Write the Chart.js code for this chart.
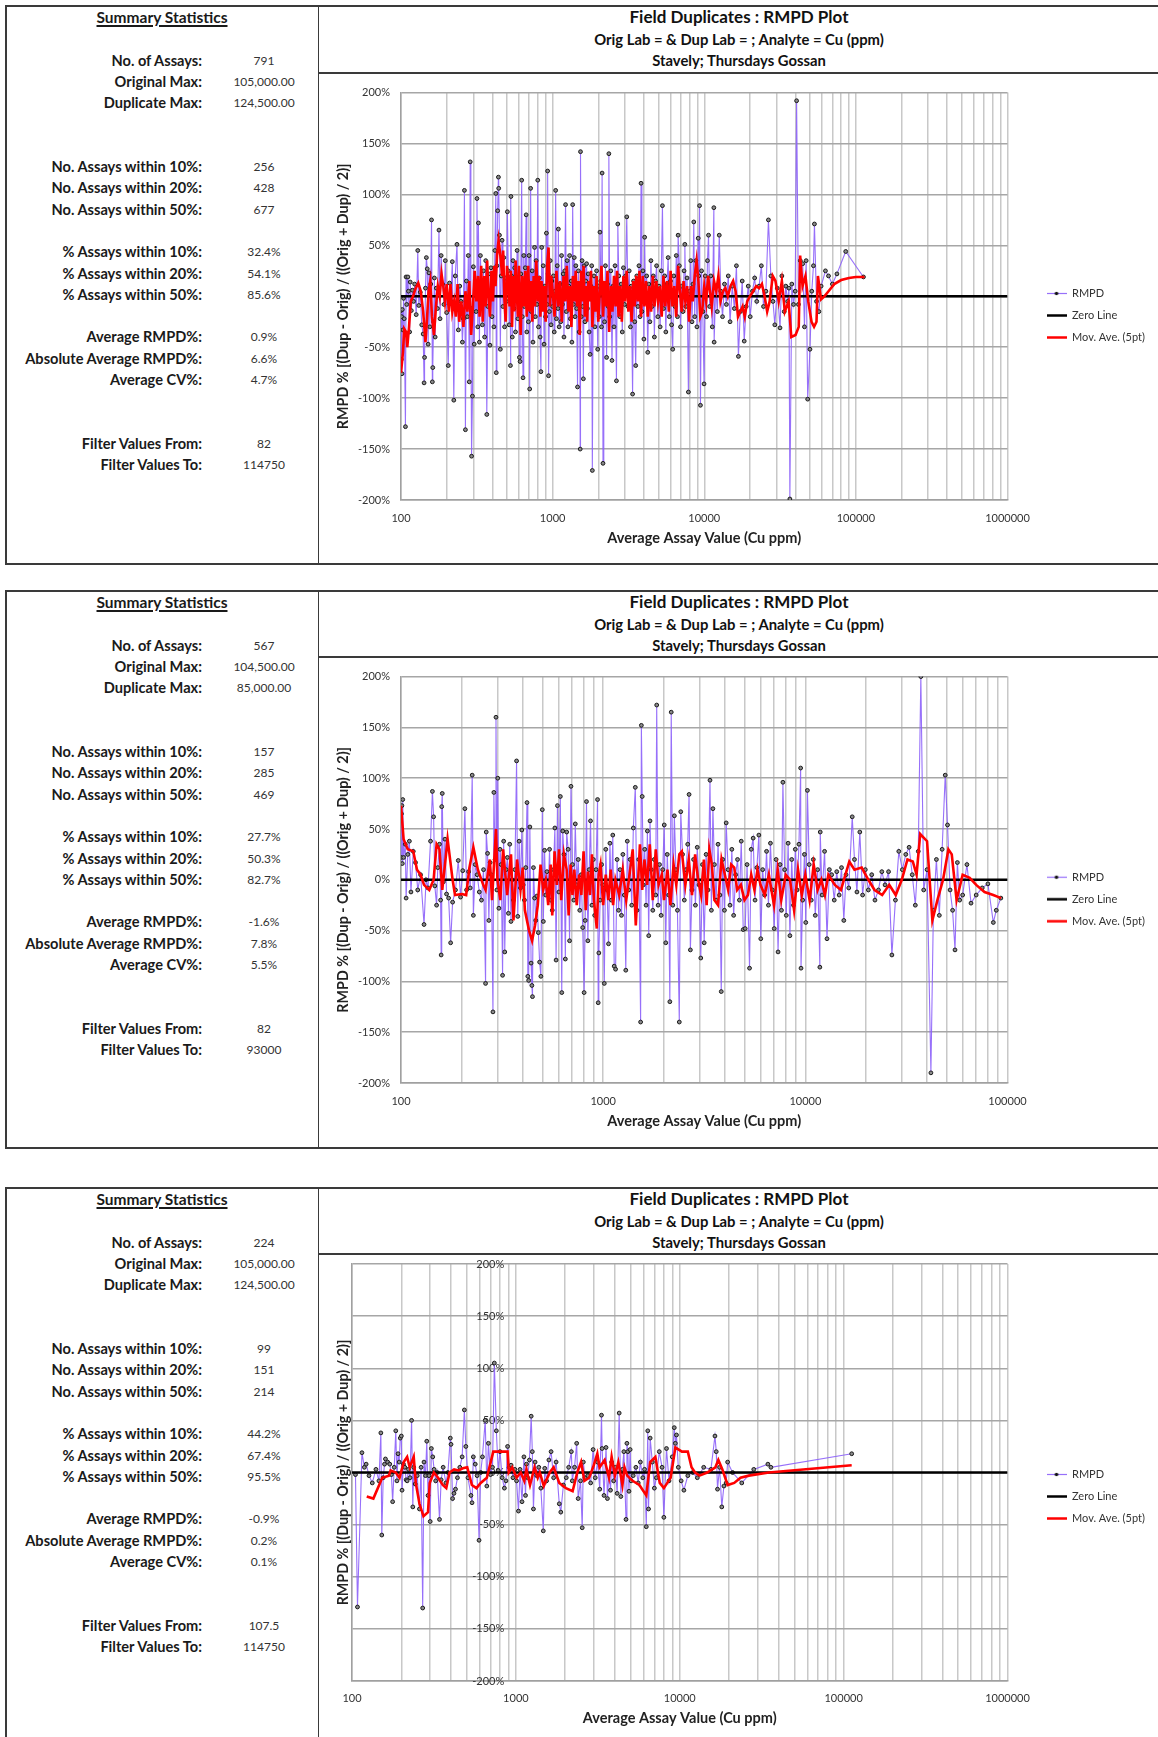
<!DOCTYPE html>
<html>
<head>
<meta charset="utf-8">
<title>Field Duplicates : RMPD Plot</title>
<script src="https://cdn.jsdelivr.net/npm/chart.js@4.4.1/dist/chart.umd.min.js"></script>
<style>
  html, body { margin: 0; padding: 0; background: #fff; }
  body { position: relative; width: 1158px; height: 1737px; overflow: hidden; font-family: Lato, "Open Sans", sans-serif; color: #1a1a1a; }
  .txt { position: absolute; height: 20px; line-height: 20px; white-space: nowrap; }
  .stitle { font-size: 15.5px; font-weight: bold; text-decoration: underline; text-decoration-thickness: 1.5px; text-underline-offset: 2px; }
  .slabel { font-size: 14.6px; font-weight: bold; color: #1a1a1a; }
  .sval { font-size: 12px; color: #333; }
  .htitle { font-size: 17px; font-weight: bold; color: #111; }
  .hsub { font-size: 14.8px; font-weight: bold; color: #111; }
  .hline { position: absolute; background: #3a3a3a; }
  canvas { position: absolute; left: 320px; }
</style>
</head>
<body>
<canvas id="chart1" width="838" height="488"></canvas>
<canvas id="chart2" width="838" height="488"></canvas>
<canvas id="chart3" width="838" height="481"></canvas>
<script>
// ---- summary statistics ----
const statLabels = ['No. of Assays:', 'Original Max:', 'Duplicate Max:',
  'No. Assays within 10%:', 'No. Assays within 20%:', 'No. Assays within 50%:',
  '% Assays within 10%:', '% Assays within 20%:', '% Assays within 50%:',
  'Average RMPD%:', 'Absolute Average RMPD%:', 'Average CV%:',
  'Filter Values From:', 'Filter Values To:'];
const statRows = [0, 1, 2, 5, 6, 7, 9, 10, 11, 13, 14, 15, 18, 19];
const stats1 = ['791', '105,000.00', '124,500.00', '256', '428', '677', '32.4%', '54.1%', '85.6%', '0.9%', '6.6%', '4.7%', '82', '114750'];
const stats2 = ['567', '104,500.00', '85,000.00', '157', '285', '469', '27.7%', '50.3%', '82.7%', '-1.6%', '7.8%', '5.5%', '82', '93000'];
const stats3 = ['224', '105,000.00', '124,500.00', '99', '151', '214', '44.2%', '67.4%', '95.5%', '-0.9%', '0.2%', '0.1%', '107.5', '114750'];

const chartTitle = 'Field Duplicates : RMPD Plot';
const chartSub1 = 'Orig Lab =  & Dup Lab = ; Analyte = Cu (ppm)';
const chartSub2 = 'Stavely; Thursdays Gossan';
const xTitle = 'Average Assay Value (Cu ppm)';
const yTitle = 'RMPD % [(Dup - Orig) / ((Orig + Dup) / 2)]';
const seriesNames = ['RMPD', 'Zero Line', 'Mov. Ave. (5pt)'];

// ---- axis ticks ----
const gridSteps = [1, 2, 3, 4, 5, 6, 7, 8, 9];
const xLabels1 = [100, 1000, 10000, 100000, 1000000];
const xLabels2 = [100, 1000, 10000, 100000];
const xLabels3 = [100, 1000, 10000, 100000, 1000000];

// ---- panel 1: [average Cu ppm, RMPD %] ----
const rmpd1 = [[100,-14],[100.5,-62],[101,-20],[101.5,-76],[102,-13],[103,-33],[104,-2],[105,-22],[107,-128],[108,19],[109,-8],[111,19],[112,5],[114,-35],[115,14],[117,-14],[119,6],[121,-5],[123,12],[126,-18],[129,45],[131,-9],[134,4],[137,-28],[140,-37],[142,-85],[143,-60],[145,8],[147,38],[149,27],[151,-47],[153,23],[155,-30],[157,12],[159,75],[161,-84],[162,-70],[164,-25],[166,18],[168,-40],[171,8],[174,-12],[178,65],[181,-22],[184,40],[188,12],[192,-8],[196,35],[200,-16],[205,-68],[209,13],[213,-5],[218,34],[223,-102],[228,20],[234,51],[239,-33],[244,10],[249,-5],[254,-45],[258,-22],[262,104],[266,-131],[270,15],[274,-20],[278,40],[282,-84],[286,132],[289,-12],[292,-157],[296,-98],[300,29],[304,-47],[309,13],[313,-15],[317,96],[321,-30],[324,72],[329,-45],[334,40],[339,5],[344,-28],[350,25],[356,-40],[362,35],[368,-116],[374,-10],[380,22],[386,-48],[392,28],[398,-20],[404,15],[410,-30],[416,45],[422,101],[425,-75],[429,30],[434,84],[439,117],[441,106],[446,60],[452,-52],[458,20],[464,55],[470,-10],[476,38],[482,-30],[489,18],[496,-5],[503,83],[510,25],[517,-28],[524,10],[527,-68],[531,98],[536,20],[542,-40],[548,35],[555,-12],[562,28],[569,-35],[576,5],[583,45],[590,-22],[597,12],[604,-60],[610,-64],[617,22],[625,114],[631,-20],[638,-80],[645,40],[652,-10],[660,28],[669,80],[676,-35],[684,15],[692,-25],[699,40],[706,-91],[716,106],[724,-15],[733,25],[742,-45],[751,10],[760,48],[769,-20],[779,35],[788,-8],[798,114],[807,-30],[817,18],[827,-40],[837,-74],[847,48],[857,-12],[867,30],[878,-47],[888,10],[899,-20],[910,62],[920,-8],[927,123],[934,22],[940,-78],[952,-15],[964,35],[976,-28],[988,15],[1000,-10],[1012,20],[1025,-35],[1035,5],[1047,104],[1060,-22],[1073,30],[1085,-12],[1091,66],[1104,-30],[1118,12],[1131,-25],[1145,40],[1160,-8],[1174,22],[1188,-40],[1203,25],[1217,90],[1232,-15],[1247,35],[1262,-30],[1278,10],[1294,40],[1310,-22],[1326,15],[1340,-45],[1356,90],[1372,-8],[1389,38],[1406,-20],[1423,30],[1440,-12],[1460,-89],[1478,25],[1496,-35],[1510,8],[1520,-150],[1527,142],[1545,-20],[1564,35],[1580,-10],[1595,-81],[1615,30],[1635,-25],[1655,15],[1675,32],[1696,-12],[1717,22],[1740,-35],[1767,-57],[1790,10],[1810,30],[1828,-171],[1850,-5],[1875,20],[1900,-30],[1925,8],[1950,25],[1983,-52],[2010,10],[2030,-20],[2052,63],[2080,15],[2100,-30],[2120,121],[2149,-164],[2175,5],[2200,-25],[2230,30],[2269,-60],[2300,12],[2330,-10],[2349,140],[2380,-20],[2420,25],[2463,-63],[2500,10],[2540,-30],[2580,30],[2636,-83],[2660,-5],[2691,71],[2730,20],[2780,-20],[2830,12],[2880,-35],[2930,28],[2980,-8],[3030,20],[3083,78],[3140,-10],[3200,25],[3260,-30],[3300,10],[3368,-96],[3420,15],[3480,-25],[3531,-68],[3590,20],[3650,-10],[3710,30],[3770,-20],[3830,111],[3880,-15],[3940,25],[4000,-42],[4045,58],[4100,-5],[4170,20],[4240,-55],[4310,12],[4380,-25],[4450,35],[4530,-10],[4610,20],[4690,-40],[4770,15],[4850,30],[4940,-20],[5030,10],[5120,-30],[5210,25],[5300,89],[5390,-12],[5480,20],[5580,-35],[5680,12],[5780,38],[5880,-20],[5990,15],[6090,-28],[6195,-52],[6300,20],[6420,-10],[6540,40],[6660,-20],[6725,60],[6850,30],[6970,-30],[7100,10],[7230,-15],[7360,25],[7448,51],[7560,-10],[7700,18],[7860,-94],[8000,5],[8150,35],[8300,-25],[8420,12],[8530,73],[8650,-20],[8800,35],[8950,-30],[9125,57],[9200,20],[9310,89],[9440,-107],[9600,25],[9780,-15],[9970,-86],[10150,20],[10350,-20],[10500,35],[10670,60],[10850,-10],[11050,20],[11300,-30],[11570,87],[11620,-45],[11900,10],[12200,-15],[12560,60],[12850,5],[13200,-20],[13600,12],[14000,-8],[14400,20],[14800,-25],[15300,10],[15800,-12],[16300,30],[16800,-59],[17300,-15],[17800,15],[18350,-44],[18900,-10],[19500,10],[20100,-20],[20800,5],[21500,18],[22200,-5],[23000,10],[23800,30],[24600,-10],[25500,5],[26500,75],[27500,20],[28400,-5],[29200,-28],[30300,8],[31600,-31],[32500,20],[33700,-15],[34500,10],[35500,-5],[36200,8],[36700,-199],[37800,12],[38800,-8],[39800,5],[40650,192],[41800,-8],[43000,35],[44600,32],[45800,-30],[47000,35],[48100,-101],[49800,-52],[51200,5],[52500,30],[53300,71],[55000,-5],[57000,-15],[59000,10],[63000,25],[66000,20],[70000,12],[75000,22],[85700,44],[112200,19]];
const mov1 = [[100,-75],[103,-55],[105,-32],[108,-35],[110,-50],[113,-30],[116,-5],[120,0],[125,8],[130,13],[135,5],[140,-15],[145,-45],[148,-25],[152,5],[156,15],[160,-20],[165,-38],[170,-10],[175,10],[180,0],[185,22],[190,10],[195,-5],[200,12],[207,-15],[212,12],[218,-15],[224,-5],[230,-20],[236,12],[242,-25],[250,-5],[258,-30],[266,5],[274,-15],[282,15],[290,-38],[298,-10],[306,25],[314,-5],[322,20],[330,-20],[338,30],[346,-25],[354,20],[362,-10],[370,35],[378,0],[386,-20],[395,25],[404,-5],[412,30],[420,10],[430,40],[440,55],[448,45],[456,35],[464,20],[472,45],[480,0],[490,-25],[500,30],[510,15],[520,-10],[530,25],[540,-30],[550,20],[560,-15],[570,35],[580,5],[590,-20],[600,30],[615,-38],[630,20],[645,-10],[660,25],[675,-20],[690,30],[705,-15],[720,15],[735,-25],[750,20],[765,-10],[780,35],[800,-5],[815,20],[830,-20],[845,15],[860,-15],[880,10],[900,-25],[920,30],[940,48],[960,-10],[980,20],[1000,5],[1030,-20],[1060,25],[1090,-10],[1120,15],[1150,-25],[1180,20],[1210,-5],[1240,30],[1270,-15],[1300,10],[1330,-30],[1360,20],[1390,-5],[1420,25],[1450,-10],[1480,15],[1510,-38],[1540,25],[1570,-5],[1600,30],[1630,-20],[1660,10],[1690,-25],[1720,15],[1750,-5],[1790,25],[1830,-30],[1870,10],[1910,-15],[1950,20],[2000,-25],[2050,5],[2100,30],[2150,-20],[2200,15],[2250,-10],[2300,25],[2360,-35],[2420,10],[2480,-15],[2540,20],[2600,-10],[2660,25],[2720,-20],[2790,10],[2860,-25],[2930,20],[3000,-5],[3080,25],[3160,-15],[3240,10],[3320,-25],[3400,15],[3480,-10],[3560,20],[3650,-5],[3740,25],[3830,-20],[3930,20],[4030,-10],[4130,15],[4240,-20],[4350,10],[4460,-15],[4580,20],[4700,-10],[4830,15],[4960,-5],[5100,10],[5240,-20],[5380,20],[5530,-10],[5680,15],[5840,-15],[6000,25],[6170,-10],[6350,10],[6530,-20],[6720,30],[6910,5],[7100,-15],[7300,15],[7500,-5],[7720,10],[7940,-25],[8170,10],[8400,-5],[8650,20],[8900,35],[9150,15],[9420,-20],[9700,-15],[10000,10],[10300,-5],[10600,20],[10900,5],[11200,-10],[11600,15],[12000,5],[12400,20],[12800,-5],[13300,5],[13800,8],[14300,0],[14900,10],[15500,15],[16100,5],[16700,-20],[17300,-15],[17900,-10],[18500,-20],[19200,-5],[20000,0],[21000,5],[22000,10],[23000,8],[24000,12],[25000,0],[26000,-15],[27000,-5],[28300,20],[29500,15],[31000,-5],[32500,15],[34000,-15],[36000,-5],[37500,-40],[40000,-38],[42000,-30],[42900,40],[44500,10],[46500,20],[48500,-5],[51000,-25],[53000,-30],[55000,-25],[56200,20],[58900,-3],[62000,0],[66000,5],[72000,12],[80000,16],[90000,18],[100000,19],[114000,19]];

// ---- panel 2 ----
const rmpd2 = [[100,22],[100.5,65],[101,73],[101.5,16],[102,79],[103,22],[105,35],[106,-18],[108,25],[110,38],[112,-12],[115,28],[118,17],[121,-10],[125,5],[130,-44],[133,0],[136,-8],[140,38],[143,87],[145,62],[147,-6],[150,-25],[152,12],[155,35],[157,-20],[158,-74],[159,72],[160,85],[162,-2],[165,40],[168,-14],[172,-18],[176,-62],[180,-22],[186,-10],[192,19],[197,-17],[202,9],[207,70],[211,-10],[216,8],[220,-8],[225,103],[228,-35],[233,15],[238,5],[244,-12],[250,-20],[256,10],[262,-102],[264,47],[268,26],[272,-40],[276,17],[280,5],[285,-130],[288,86],[292,20],[295,160],[298,-10],[301,100],[305,-28],[309,30],[313,15],[318,-94],[322,38],[326,-71],[331,10],[336,22],[340,-33],[345,35],[350,-41],[355,0],[360,-20],[366,10],[373,117],[378,-36],[384,38],[390,-8],[396,49],[402,-5],[408,-20],[414,12],[420,76],[424,-95],[428,-99],[434,52],[440,-82],[444,-104],[447,-115],[452,12],[458,-18],[464,-40],[470,-16],[478,-52],[485,-81],[492,-95],[500,69],[506,-41],[513,29],[520,-15],[527,8],[535,-10],[543,30],[551,-20],[560,-30],[568,10],[577,51],[585,-79],[594,73],[604,-12],[614,82],[624,-111],[631,48],[640,25],[650,-78],[660,47],[671,30],[682,-60],[693,92],[705,15],[716,-20],[728,55],[740,-5],[753,20],[766,-30],[779,5],[792,-47],[805,-111],[815,-40],[827,77],[840,-60],[853,10],[866,58],[880,-25],[894,20],[908,-35],[922,10],[938,79],[945,-121],[952,-72],[966,-20],[982,15],[997,-5],[1013,-102],[1030,30],[1046,-10],[1063,-63],[1080,36],[1098,-20],[1116,44],[1134,-85],[1152,-88],[1172,20],[1192,-30],[1212,10],[1232,-35],[1252,25],[1273,-15],[1294,-89],[1316,38],[1338,-10],[1360,20],[1385,-25],[1410,51],[1442,91],[1470,-30],[1500,20],[1532,-140],[1545,152],[1560,82],[1580,-5],[1605,30],[1630,-25],[1655,48],[1680,-55],[1705,58],[1730,10],[1760,-30],[1790,20],[1820,-15],[1840,172],[1870,-25],[1900,15],[1935,-35],[1970,10],[2005,54],[2040,-62],[2075,25],[2110,-15],[2137,-120],[2171,165],[2210,-25],[2250,63],[2290,10],[2330,-30],[2380,-140],[2420,67],[2470,25],[2520,-20],[2570,10],[2620,35],[2660,84],[2700,-69],[2750,-10],[2800,20],[2860,-25],[2920,32],[2980,-5],[3040,-77],[3100,15],[3160,-62],[3230,25],[3300,-10],[3376,98],[3430,-30],[3490,70],[3550,15],[3620,-20],[3700,35],[3780,-15],[3838,-110],[3900,20],[3980,-30],[4060,56],[4150,10],[4240,-25],[4330,30],[4420,-35],[4520,5],[4620,20],[4720,-20],[4820,38],[4930,-49],[5040,-48],[5150,15],[5297,-87],[5400,30],[5520,41],[5640,-20],[5760,12],[5890,44],[6020,-58],[6150,10],[6290,-15],[6430,28],[6570,-25],[6720,36],[6870,-10],[7020,-48],[7170,20],[7330,-71],[7500,15],[7620,-30],[7745,96],[7900,10],[8050,-35],[8220,36],[8390,-55],[8560,20],[8740,-25],[8920,30],[9100,-10],[9300,35],[9480,110],[9520,-87],[9700,-20],[9900,25],[10050,-42],[10240,88],[10450,15],[10700,-20],[10950,20],[11200,-35],[11500,10],[11800,-86],[11850,47],[12100,-15],[12450,28],[12800,-58],[13150,10],[13500,5],[13900,-20],[14300,8],[14700,-15],[15100,12],[15500,-40],[15900,5],[16400,-8],[17060,62],[17500,20],[18000,-12],[18600,47],[19200,-15],[19800,10],[20500,-10],[21300,5],[22100,-20],[23000,-10],[23900,8],[24800,-5],[25800,8],[26800,-74],[27900,-20],[29000,28],[30200,10],[31400,25],[32600,32],[33800,5],[35000,-25],[36200,28],[37270,200],[38500,-10],[40000,10],[41800,-190],[43000,-30],[44500,20],[46000,-35],[47500,30],[49200,103],[50500,54],[52000,-10],[53500,-30],[55000,-69],[56500,17],[58000,-20],[60000,-15],[63000,15],[66000,-23],[70000,-15],[75000,-8],[80000,-4],[85100,-42],[88000,-30],[92700,-18]];
const mov2 = [[100,73],[103,40],[108,30],[115,28],[120,10],[125,5],[130,-5],[138,-10],[145,0],[150,35],[155,30],[160,-10],[165,15],[170,40],[180,0],[185,-15],[200,-14],[210,-15],[218,12],[228,32],[240,10],[255,-5],[262,-10],[275,20],[282,-20],[295,50],[300,0],[310,-20],[320,30],[335,-15],[350,25],[360,-40],[375,20],[390,-10],[400,12],[410,-30],[430,-50],[445,-60],[460,-45],[475,-25],[490,15],[505,-10],[520,0],[535,-25],[550,15],[560,-35],[575,28],[590,-5],[605,30],[620,-20],[640,25],[660,10],[675,-35],[690,15],[705,-15],[720,10],[740,-25],[760,5],[780,-15],[800,28],[820,-30],[840,8],[860,-15],[880,25],[900,-20],[930,-48],[950,5],[970,15],[1000,-25],[1030,5],[1060,-20],[1090,10],[1120,-25],[1150,0],[1200,-15],[1250,10],[1300,-20],[1350,5],[1400,30],[1450,-45],[1520,35],[1560,-10],[1600,20],[1650,-5],[1700,35],[1760,-20],[1820,30],[1880,-5],[1950,5],[2000,-20],[2080,10],[2150,-25],[2230,15],[2300,-5],[2380,25],[2450,28],[2550,-5],[2650,20],[2750,-15],[2850,25],[2950,0],[3050,-15],[3150,20],[3250,-25],[3350,30],[3450,15],[3550,-20],[3700,-25],[3850,20],[4000,5],[4150,-10],[4300,15],[4450,12],[4600,-10],[4800,-5],[5000,-20],[5200,-15],[5400,5],[5600,-10],[5800,10],[6000,-5],[6300,-15],[6600,5],[7000,-25],[7300,10],[7600,-20],[8000,5],[8400,0],[8800,-30],[9200,10],[9600,-15],[10000,5],[10500,-20],[11000,15],[11500,-10],[12000,0],[12500,-15],[13000,5],[14000,-5],[15000,-10],[16500,18],[17500,10],[19000,12],[20500,0],[22000,-10],[24000,-15],[26000,-5],[28000,-15],[30000,0],[32000,20],[34000,18],[35500,5],[37000,45],[40000,38],[42500,-40],[45000,-20],[48000,0],[51000,30],[53000,25],[56000,-20],[60000,5],[65000,2],[70000,-5],[77000,-12],[85000,-15],[93000,-18]];

// ---- panel 3 ----
const rmpd3 = [[105,-2],[108,-129],[115,19],[119,5],[122,8],[127,-3],[133,-10],[140,3],[146,-8],[150,38],[152,-60],[155,-5],[158,8],[160,13],[165,10],[170,8],[174,-2],[177,-28],[181,5],[185,40],[188,-8],[191,18],[194,10],[197,33],[200,35],[202,-17],[206,8],[210,5],[214,-7],[217,-8],[221,3],[226,-5],[231,50],[235,-33],[238,5],[243,-11],[250,-3],[258,-35],[264,5],[270,-130],[275,10],[281,-3],[286,30],[291,-22],[295,-3],[300,-47],[305,23],[311,15],[317,3],[324,-8],[331,0],[342,-45],[350,-7],[360,5],[374,-10],[385,0],[398,33],[402,27],[411,-25],[419,-20],[428,-16],[440,-5],[455,5],[470,15],[485,60],[495,25],[510,-5],[532,-22],[540,-29],[550,15],[565,8],[580,-3],[596,-65],[610,0],[625,15],[650,50],[665,-13],[680,28],[700,-2],[720,5],[739,105],[760,40],[780,2],[800,20],[825,-5],[851,-15],[870,-8],[890,25],[910,5],[935,7],[960,-5],[985,3],[1010,-8],[1037,-37],[1060,3],[1090,-28],[1120,15],[1145,-22],[1160,8],[1180,-5],[1210,12],[1240,54],[1260,20],[1280,-35],[1310,10],[1340,-3],[1380,5],[1420,-15],[1470,-56],[1500,4],[1540,-8],[1590,12],[1640,20],[1700,-5],[1760,10],[1840,-30],[1880,-38],[1950,-12],[2030,-5],[2100,5],[2180,20],[2210,-8],[2280,5],[2350,28],[2400,-25],[2480,-8],[2540,-53],[2580,10],[2640,-5],[2750,-3],[2860,-10],[2960,22],[3050,-5],[3150,10],[3250,-16],[3330,55],[3360,23],[3450,-22],[3550,24],[3620,-25],[3700,0],[3780,-17],[3840,10],[3950,-8],[4050,5],[4150,-20],[4270,57],[4370,-23],[4470,3],[4560,20],[4700,-45],[4760,28],[4820,20],[4900,-18],[4980,22],[5050,-8],[5200,-3],[5400,5],[5580,-10],[5750,10],[5950,-5],[6100,3],[6250,-52],[6380,40],[6450,-35],[6600,33],[6800,10],[7000,-15],[7200,-5],[7500,20],[7800,5],[8000,-43],[8300,23],[8600,-8],[9000,15],[9260,43],[9400,28],[9550,36],[9800,5],[10200,-8],[10600,-17],[11200,-3],[12000,0],[12800,-5],[14000,5],[15500,3],[16400,35],[16700,20],[17000,-16],[17500,5],[18050,-33],[18600,-13],[19200,-10],[19600,10],[21000,0],[23900,-10],[28300,3],[34500,8],[36000,5],[112000,18]];
const mov3 = [[123,-23],[135,-25],[153,-5],[168,-3],[172,2],[185,0],[195,-5],[207,10],[217,15],[225,5],[238,15],[245,-10],[258,-30],[273,-42],[291,-38],[298,-10],[316,0],[335,-5],[358,-12],[376,-15],[394,0],[420,3],[447,2],[475,4],[505,5],[539,-12],[575,-15],[610,-10],[665,-5],[728,20],[810,20],[890,20],[905,0],[950,5],[1010,-5],[1070,0],[1125,-8],[1160,3],[1220,-12],[1300,5],[1360,-5],[1400,0],[1480,-13],[1610,0],[1700,5],[1840,-10],[2020,-15],[2220,-18],[2370,0],[2500,10],[2620,-8],[2800,-5],[2960,5],[3140,18],[3240,5],[3480,12],[3700,-5],[3840,15],[4020,-3],[4220,10],[4470,-12],[4600,5],[4780,-3],[5150,-8],[5670,-12],[6250,-22],[6600,10],[7100,15],[7550,-10],[8000,-15],[8800,-5],[9400,24],[10300,20],[11200,20],[11800,5],[12400,0],[13200,-3],[14700,0],[16500,5],[17200,12],[18200,3],[19600,-12],[21500,-10],[23500,-5],[26400,-3],[35000,0],[112000,7]];

// ---- page layout ----
const PURPLE = 'rgba(140, 96, 250, 0.9)';
const panels = [
  { canvas: 'chart1', top: 5, bottom: 563, header: 73, stats: stats1, rmpd: rmpd1, mov: mov1, xMax: 1000000, xLabels: xLabels1,
    pad: { top: 9, right: 4.5, bottom: 16, left: 0 }, xAxisH: 47, yAxisW: 81, xTickPad: 11.5, xTitlePad: 0, yLabelX: null },
  { canvas: 'chart2', top: 590, bottom: 1147, header: 657, stats: stats2, rmpd: rmpd2, mov: mov2, xMax: 100000, xLabels: xLabels2,
    pad: { top: 9, right: 4.5, bottom: 16.6, left: 0 }, xAxisH: 47.4, yAxisW: 81, xTickPad: 12, xTitlePad: 0, yLabelX: null },
  { canvas: 'chart3', top: 1187, bottom: null, header: 1254, stats: stats3, rmpd: rmpd3, mov: mov3, xMax: 1000000, xLabels: xLabels3,
    pad: { top: 8, right: 4.5, bottom: 8, left: 0 }, xAxisH: 48, yAxisW: 32, xTickPad: 10.5, xTitlePad: 1.6, yLabelX: 850 }
];
const canvasTops = { chart1: 75, chart2: 659, chart3: 1256 };

function addText(text, x, y, w, align, cls) {
  const d = document.createElement('div');
  d.className = 'txt ' + cls;
  d.style.left = x + 'px';
  d.style.top = (y - 10) + 'px';
  d.style.width = w + 'px';
  d.style.textAlign = align;
  d.textContent = text;
  document.body.appendChild(d);
}

function addLine(x, y, w, h) {
  const d = document.createElement('div');
  d.className = 'hline';
  d.style.left = x + 'px'; d.style.top = y + 'px';
  d.style.width = w + 'px'; d.style.height = h + 'px';
  document.body.appendChild(d);
}

function drawFrame(p) {
  const bottom = p.bottom === null ? 1737 : p.bottom;
  addLine(5, p.top, 1153, 1.5);
  addLine(5, p.top, 1.5, bottom - p.top);
  if (p.bottom !== null) addLine(5, p.bottom, 1153, 1.5);
  addLine(317.5, p.top, 1.5, bottom - p.top);
  addLine(318, p.header - 1, 840, 2);

  addText('Summary Statistics', 12, p.top + 12, 300, 'center', 'stitle');
  statLabels.forEach((lab, i) => {
    const y = p.top + 55.5 + 21.3 * statRows[i];
    addText(lab, 0, y, 202, 'right', 'slabel');
    addText(p.stats[i], 214, y, 100, 'center', 'sval');
  });

  addText(chartTitle, 320, p.top + 12, 838, 'center', 'htitle');
  addText(chartSub1, 320, p.top + 33.5, 838, 'center', 'hsub');
  addText(chartSub2, 320, p.top + 54.5, 838, 'center', 'hsub');
}

function legendIcon(color, width, dot) {
  const c = document.createElement('canvas');
  c.width = 20; c.height = 9;
  const g = c.getContext('2d');
  g.strokeStyle = color; g.lineWidth = width;
  g.beginPath(); g.moveTo(0, 4.5); g.lineTo(20, 4.5); g.stroke();
  if (dot) {
    g.fillStyle = '#111';
    g.beginPath(); g.arc(10, 4.5, 1.8, 0, Math.PI * 2); g.fill();
  }
  return c;
}
const legendIcons = [legendIcon(PURPLE, 1.2, true), legendIcon('#000', 2.5, false), legendIcon('#ff0000', 2.5, false)];

function gridValues(xMax) {
  const vals = [];
  for (let d = 100; d < xMax; d *= 10) gridSteps.forEach(k => vals.push(d * k));
  vals.push(xMax);
  return vals;
}

Chart.defaults.font.family = 'Lato, "Open Sans", sans-serif';
Chart.defaults.color = '#333';

function buildChart(p) {
  const cv = document.getElementById(p.canvas);
  cv.style.top = canvasTops[p.canvas] + 'px';
  const scales = {
    x: {
      type: 'logarithmic', min: 100, max: p.xMax,
      afterBuildTicks: s => { s.ticks = gridValues(p.xMax).map(v => ({ value: v })); },
      afterFit: s => { s.height = p.xAxisH; },
      ticks: { autoSkip: false, maxRotation: 0, padding: p.xTickPad, color: '#333', font: { size: 11 },
        callback: v => (p.xLabels.includes(v) ? String(v) : '') },
      grid: { color: '#c8c8c8', lineWidth: 1.5, drawTicks: false },
      border: { display: true, color: '#a0a0a0', width: 1.5 },
      title: { display: true, text: xTitle, color: '#222', font: { size: 14.5, weight: 'bold' }, padding: { top: 0, bottom: p.xTitlePad } }
    },
    y: {
      type: 'linear', position: 'left', min: -200, max: 200,
      afterFit: s => { s.width = p.yAxisW; },
      ticks: { display: p.yLabelX === null, stepSize: 50, padding: 11, color: '#333', font: { size: 11 }, callback: v => v + '%' },
      grid: { color: '#a6a6a6', lineWidth: 1.5, drawTicks: false },
      border: { display: true, color: '#a0a0a0', width: 1.5 },
      title: { display: true, text: yTitle, color: '#222', font: { size: 14.3, weight: 'bold' }, padding: { top: 15, bottom: 0 } }
    },
    yGap: {
      type: 'linear', axis: 'y', position: 'right', min: 0, max: 1,
      afterFit: s => { s.width = 28; },
      ticks: { display: false }, grid: { display: false, drawTicks: false }, border: { display: false }
    }
  };
  if (p.yLabelX !== null) {
    scales.yLab = {
      type: 'linear', axis: 'y', position: { x: p.yLabelX }, min: -200, max: 200,
      ticks: { stepSize: 50, padding: 0, color: '#333', font: { size: 11 }, callback: v => v + '%' },
      grid: { display: false, drawTicks: false }, border: { display: false }
    };
  }
  return new Chart(cv, {
    type: 'line',
    data: {
      datasets: [
        { label: seriesNames[0], data: p.rmpd.map(([x, y]) => ({ x, y })), borderColor: PURPLE, borderWidth: 1.1,
          pointRadius: 1.9, pointBorderWidth: 1, pointBorderColor: '#1a1a1a', pointBackgroundColor: '#8a8a8a', tension: 0, order: 3 },
        { label: seriesNames[1], data: [{ x: 100, y: 0 }, { x: p.xMax, y: 0 }], borderColor: '#000', borderWidth: 2.5,
          pointRadius: 0, tension: 0, order: 2 },
        { label: seriesNames[2], data: p.mov.map(([x, y]) => ({ x, y })), borderColor: '#ff0000', borderWidth: 2.6,
          pointRadius: 0, tension: 0, order: 1 }
      ]
    },
    options: {
      responsive: false, animation: false, devicePixelRatio: 1, events: [],
      layout: { padding: p.pad },
      scales,
      plugins: {
        tooltip: { enabled: false },
        legend: {
          position: 'right', align: 'center', maxWidth: 118,
          labels: {
            usePointStyle: true, pointStyleWidth: 20, padding: 11, color: '#333', font: { size: 11 },
            generateLabels: chart => chart.data.datasets.map((ds, i) => ({
              text: ds.label, datasetIndex: i, pointStyle: legendIcons[i], hidden: false,
              fillStyle: 'rgba(0,0,0,0)', strokeStyle: 'rgba(0,0,0,0)', lineWidth: 0, fontColor: '#333'
            }))
          }
        }
      }
    }
  });
}

panels.forEach(p => { drawFrame(p); buildChart(p); });
</script>
</body>
</html>
